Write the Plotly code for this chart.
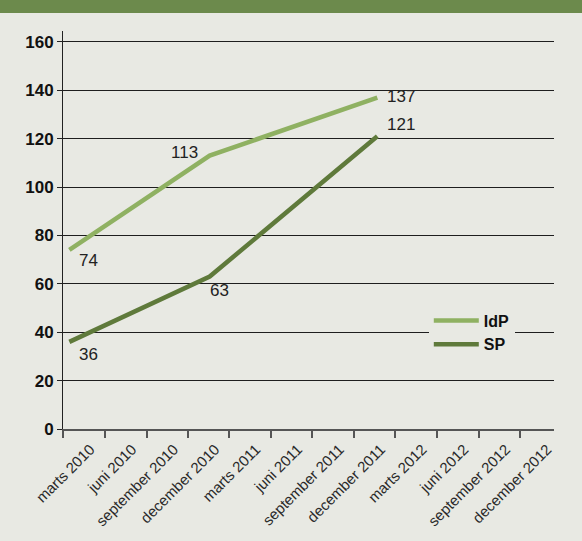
import plotly.graph_objects as go
import pandas as pd

# ---- data ----
dates = ["2010-03-15", "2011-01-18", "2012-01-22"]
idp_values = [74, 113, 137]
sp_values = [36, 63, 121]
series_names = ["IdP", "SP"]

tick_dates = ["2010-03-01", "2010-06-01", "2010-09-01", "2010-12-01",
              "2011-03-01", "2011-06-01", "2011-09-01", "2011-12-01",
              "2012-03-01", "2012-06-01", "2012-09-01", "2012-12-01"]
tick_labels = ["marts 2010", "juni 2010", "september 2010", "december 2010",
               "marts 2011", "juni 2011", "september 2011", "december 2011",
               "marts 2012", "juni 2012", "september 2012", "december 2012"]
y_ticks = [0, 20, 40, 60, 80, 100, 120, 140, 160]

# ---- styling ----
BG = "#e8e9e3"
C_IDP = "#8fb162"
C_SP = "#5f7a3b"
HEADER = "#6c8a4c"
label_offset_days = 60
idp_shifts = [(19, -11), (-25, 3), (24, 1)]
sp_shifts = [(19, -13), (10, -14), (24, 12)]

label_vals = [(pd.Timestamp(d) + pd.Timedelta(days=label_offset_days)).strftime("%Y-%m-%d")
              for d in tick_dates]

fig = go.Figure()
fig.add_trace(go.Scatter(x=dates, y=idp_values, mode="lines", name=series_names[0],
                         line=dict(color=C_IDP, width=4.5)))
fig.add_trace(go.Scatter(x=dates, y=sp_values, mode="lines", name=series_names[1],
                         line=dict(color=C_SP, width=4.5)))

annotations = []
for vals, shifts in ((idp_values, idp_shifts), (sp_values, sp_shifts)):
    for d, v, (dx, dy) in zip(dates, vals, shifts):
        annotations.append(dict(x=d, y=v, text=str(v), showarrow=False,
                                xshift=dx, yshift=dy, xanchor="center", yanchor="middle",
                                font=dict(family="Liberation Sans", size=17, color="#222222")))

fig.update_layout(
    width=582, height=541,
    margin=dict(l=63, r=28, t=31, b=112),
    paper_bgcolor=BG, plot_bgcolor=BG,
    showlegend=True,
    legend=dict(x=0.745, y=0.2425, xanchor="left", yanchor="middle",
                bgcolor=BG, font=dict(family="Liberation Sans", size=16, color="#111111",
                                      weight="bold"),
                itemwidth=45, traceorder="normal"),
    annotations=annotations,
    shapes=[dict(type="rect", xref="paper", yref="paper", x0=-0.2, x1=1.2,
                 y0=1.045, y1=1.2, fillcolor=HEADER, line=dict(width=0), layer="above")],
)
fig.update_xaxes(
    type="date", range=["2010-03-01", "2013-02-14"],
    tickmode="array", tickvals=label_vals, ticktext=tick_labels,
    tickangle=-45, ticks="", showgrid=False, ticklabelstandoff=4,
    tickfont=dict(family="Liberation Sans", size=15, color="#2a2a2a"),
    showline=True, linecolor="#555555", linewidth=1.5,
    minor=dict(tickmode="array", tickvals=tick_dates, ticks="outside", ticklen=7,
               tickcolor="#555555", tickwidth=1.5, showgrid=False),
    zeroline=False,
)
fig.update_yaxes(
    range=[0, 164.5], tickmode="array", tickvals=y_ticks,
    ticks="outside", ticklen=5, tickcolor="#222222",
    showgrid=True, gridcolor="#1e1e1e", gridwidth=1,
    showline=True, linecolor="#222222", linewidth=1,
    zeroline=False,
    tickfont=dict(family="Liberation Sans", size=17, color="#111111", weight="bold"),
)

fig.write_html("out.html",
               config={"displayModeBar": False},
               post_script="document.body.style.margin='0';document.body.style.overflow='hidden';")
